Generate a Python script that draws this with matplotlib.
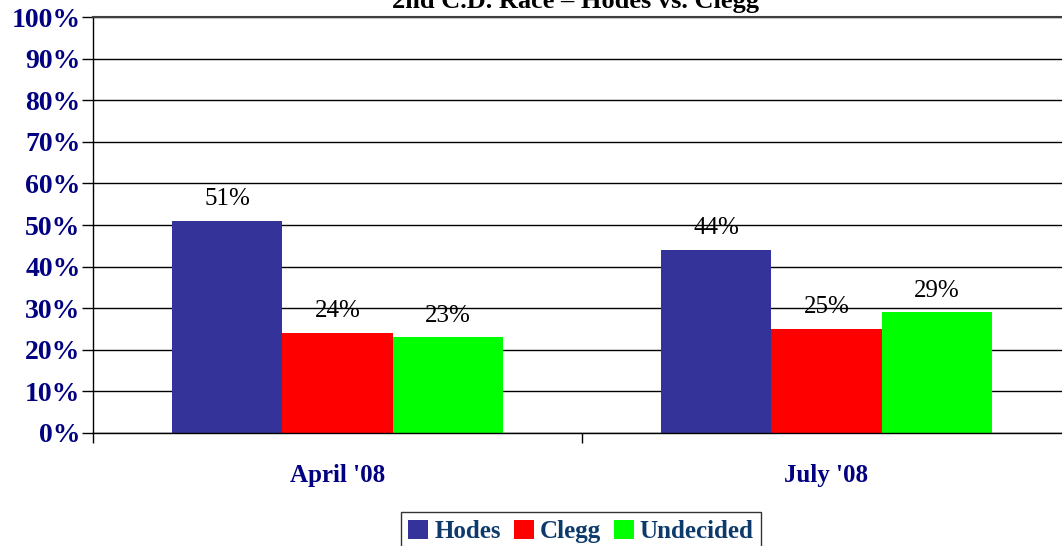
import numpy as np
import matplotlib
matplotlib.use("Agg")
import matplotlib.pyplot as plt
from matplotlib.ticker import FixedLocator

# data
periods = ["April '08", "July '08"]
hodes = [51, 44]
clegg = [24, 25]
undecided = [23, 29]
series_names = ["Hodes", "Clegg", "Undecided"]
series_colors = ["#333399", "#FF0000", "#00FF00"]
y_ticks = list(range(0, 101, 10))

plt.rcParams['font.family'] = ['Liberation Serif', 'DejaVu Serif']

fig = plt.figure(figsize=(10.62, 5.46), dpi=100)
W, H = 1062, 546
# plot area runs past the right edge, like the original
ax = fig.add_axes([93 / W, (H - 433) / H, (1071 - 93) / W, 416 / H])

x = np.arange(len(periods))
bw = 0.226
values = [hodes, clegg, undecided]
for i, (vals, name, col) in enumerate(zip(values, series_names, series_colors)):
    pos = x + (i - 1) * bw
    bars = ax.bar(pos, vals, width=bw, color=col, label=name, zorder=2)
    for xp, v in zip(pos, vals):
        ax.text(xp, v + 2.6, f"{v}%", ha='center', va='bottom', fontsize=18,
                color='black', zorder=0.3)

ax.set_xlim(-0.5, 1.5)
ax.set_ylim(0, 100)
ax.set_axisbelow(True)
ax.yaxis.grid(True, color='black', linewidth=1.0)

ax.set_yticks(y_ticks)
ax.set_yticklabels([f"{t}%" for t in y_ticks], fontsize=20, fontweight='bold', color='#000080')
ax.tick_params(axis='y', direction='out', length=8, width=1, pad=1)

ax.xaxis.set_major_locator(FixedLocator([-0.5, 0.5, 1.5]))
ax.xaxis.set_minor_locator(FixedLocator(list(x)))
ax.tick_params(axis='x', which='major', direction='out', length=7, width=1, labelbottom=False)
ax.tick_params(axis='x', which='minor', length=0, pad=22)
ax.set_xticks(x, minor=True)
ax.set_xticklabels(periods, minor=True, fontsize=18, fontweight='bold', color='#000080')

for s in ['left', 'bottom']:
    ax.spines[s].set_color('black')
    ax.spines[s].set_linewidth(1)
ax.spines['top'].set_color('#404040')
ax.spines['top'].set_linewidth(1.5)
ax.spines['right'].set_visible(False)

fig.text(575 / W, (H - 8) / H, "2nd C.D. Race \u2013 Hodes vs. Clegg", ha='center',
         va='baseline', fontsize=19, fontweight='bold')

leg = fig.legend(loc='upper center', bbox_to_anchor=(581 / W, (H - 512) / H), ncol=3,
                 prop={'size': 18, 'weight': 'bold'}, frameon=True, fancybox=False,
                 edgecolor='black', handlelength=0.8, handleheight=0.8,
                 handletextpad=0.25, columnspacing=0.5, borderpad=0.3,
                 borderaxespad=0)
leg.get_frame().set_linewidth(1)
for t in leg.get_texts():
    t.set_color('#0B3A6B')

fig.savefig("out.png", dpi=100)
